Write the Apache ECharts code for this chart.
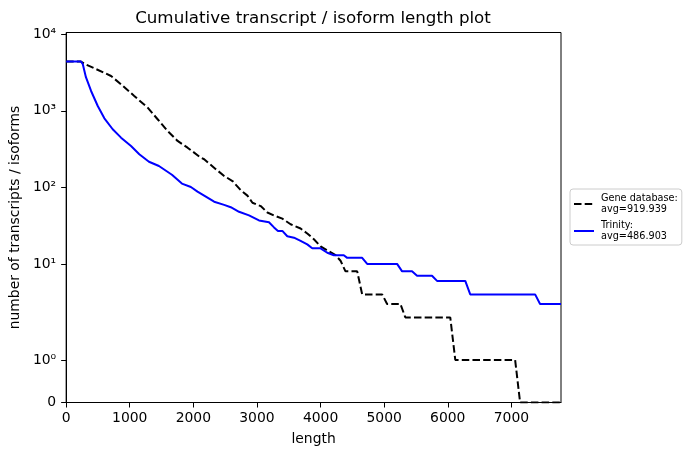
<!DOCTYPE html>
<html>
<head>
<meta charset="utf-8">
<script src="https://cdn.jsdelivr.net/npm/echarts@6/dist/echarts.min.js"></script>
<style>
html,body{margin:0;padding:0;background:#fff;}
#chart{width:691px;height:455px;}
</style>
</head>
<body>
<div id="chart"></div>
<script>
// ---- data ----
const titleText = 'Cumulative transcript / isoform length plot';
const xAxisName = 'length';
const yAxisName = 'number of transcripts / isoforms';
const seriesNames = ['Gene database:\navg=919.939', 'Trinity:\navg=486.903'];

const geneLength = [0, 233, 311, 444, 706, 863, 1071, 1282, 1438, 1595, 1752, 1909, 1961, 2118, 2170, 2353, 2484, 2615, 2745, 2850, 2929, 3059, 3164, 3268, 3399, 3529, 3686, 3791, 3895, 4000, 4106, 4236, 4314, 4392, 4576, 4654, 4968, 5046, 5255, 5333, 6039, 6118, 7059, 7137, 7780];
const geneCount  = [4400, 4400, 4030, 3594, 2851, 2221, 1562, 1099, 776, 545, 404, 330, 306, 244, 233, 173, 141, 121, 92, 78, 63, 57, 47, 43, 39, 33, 29, 25, 21, 17, 15, 13, 11, 8, 8, 4, 4, 3, 3, 2, 2, 1, 1, 0, 0];

const trinityLength = [0, 233, 262, 311, 392, 497, 601, 732, 863, 1020, 1150, 1302, 1459, 1663, 1820, 1961, 2065, 2170, 2327, 2484, 2588, 2718, 2875, 3032, 3189, 3268, 3330, 3399, 3477, 3582, 3686, 3791, 3869, 4000, 4106, 4209, 4365, 4419, 4654, 4733, 5203, 5282, 5438, 5517, 5752, 5831, 6275, 6353, 7373, 7451, 7780];
const trinityCount  = [4400, 4400, 4053, 2750, 1816, 1156, 799, 574, 446, 347, 271, 216, 190, 146, 112, 101, 88, 78, 65, 59, 55, 48, 43, 37, 35, 30, 27, 27, 23, 22, 20, 18, 16, 16, 14, 13, 13, 12, 12, 10, 10, 8, 8, 7, 7, 6, 6, 4, 4, 3, 3];

const xTicks = [0, 1000, 2000, 3000, 4000, 5000, 6000, 7000];
const yTickValues = [0, 1, 10, 100, 1000, 10000];
const yTickLabels = ['0', '10⁰', '10¹', '10²', '10³', '10⁴'];

// ---- symlog scale (linthresh 2, linscale 1, base 10) ----
const LT = 2, LS = 1 / (1 - 1 / 10);
function symlog(v) { return v <= LT ? v * LS : LT * (LS + Math.log10(v / LT)); }

function pairs(xs, ys) { return xs.map((x, i) => [x, symlog(ys[i])]); }

const yTickPos = yTickValues.map(symlog);
const FONT = 'DejaVu Sans';

const chart = echarts.init(document.getElementById('chart'), null, {renderer: 'canvas'});
chart.setOption({
  animation: false,
  backgroundColor: '#ffffff',
  textStyle: {fontFamily: FONT},
  title: {
    text: titleText,
    left: 313, top: 10, textAlign: 'center', padding: 0,
    textStyle: {fontFamily: FONT, fontSize: 16.7, fontWeight: 'normal', color: '#000'}
  },
  grid: {
    left: 65, right: 130, top: 32.5, bottom: 52.5,
    show: true, borderColor: '#000', borderWidth: 1, backgroundColor: 'transparent'
  },
  legend: {
    orient: 'vertical',
    left: 570, top: 189,
    padding: [4, 4, 3, 3],
    itemGap: 5,
    itemWidth: 20, itemHeight: 10,
    borderColor: '#cccccc', borderWidth: 1, borderRadius: 3,
    itemStyle: {opacity: 0},
    textStyle: {fontFamily: FONT, fontSize: 9.7, color: '#000', lineHeight: 11, padding: [0, 0, 0, 2]},
    data: seriesNames
  },
  xAxis: {
    type: 'value', min: 0, max: 7780,
    name: xAxisName, nameLocation: 'middle', nameGap: 30,
    nameTextStyle: {fontFamily: FONT, fontSize: 13.9, color: '#000'},
    axisLine: {show: true, onZero: false, lineStyle: {color: '#000', width: 1}},
    axisTick: {show: true, length: 5, customValues: xTicks, lineStyle: {color: '#000'}},
    axisLabel: {
      fontFamily: FONT, fontSize: 13.9, color: '#000', margin: 9,
      customValues: xTicks,
      formatter: function (v) { return String(Math.round(v)); }
    },
    splitLine: {show: false}
  },
  yAxis: {
    type: 'value', min: 0, max: 9.666,
    name: yAxisName, nameLocation: 'middle', nameGap: 40,
    nameTextStyle: {fontFamily: FONT, fontSize: 13.9, color: '#000'},
    axisLine: {show: true, lineStyle: {color: '#000', width: 1}},
    axisTick: {show: true, length: 5, customValues: yTickPos, lineStyle: {color: '#000'}},
    axisLabel: {
      fontFamily: FONT, fontSize: 13.9, color: '#000', margin: 10,
      customValues: yTickPos,
      formatter: function (val) {
        let best = 0, bd = Infinity;
        yTickPos.forEach((p, i) => { const d = Math.abs(p - val); if (d < bd) { bd = d; best = i; } });
        return yTickLabels[best];
      }
    },
    splitLine: {show: false}
  },
  series: [
    {
      name: seriesNames[0], type: 'line', data: pairs(geneLength, geneCount),
      symbol: 'none', showSymbol: false, smooth: false,
      lineStyle: {color: '#000000', width: 2, type: [7.5, 3.2]},
      itemStyle: {color: '#000000'}
    },
    {
      name: seriesNames[1], type: 'line', data: pairs(trinityLength, trinityCount),
      symbol: 'none', showSymbol: false, smooth: false,
      lineStyle: {color: '#0000ff', width: 2},
      itemStyle: {color: '#0000ff'}
    }
  ]
});
</script>
</body>
</html>
